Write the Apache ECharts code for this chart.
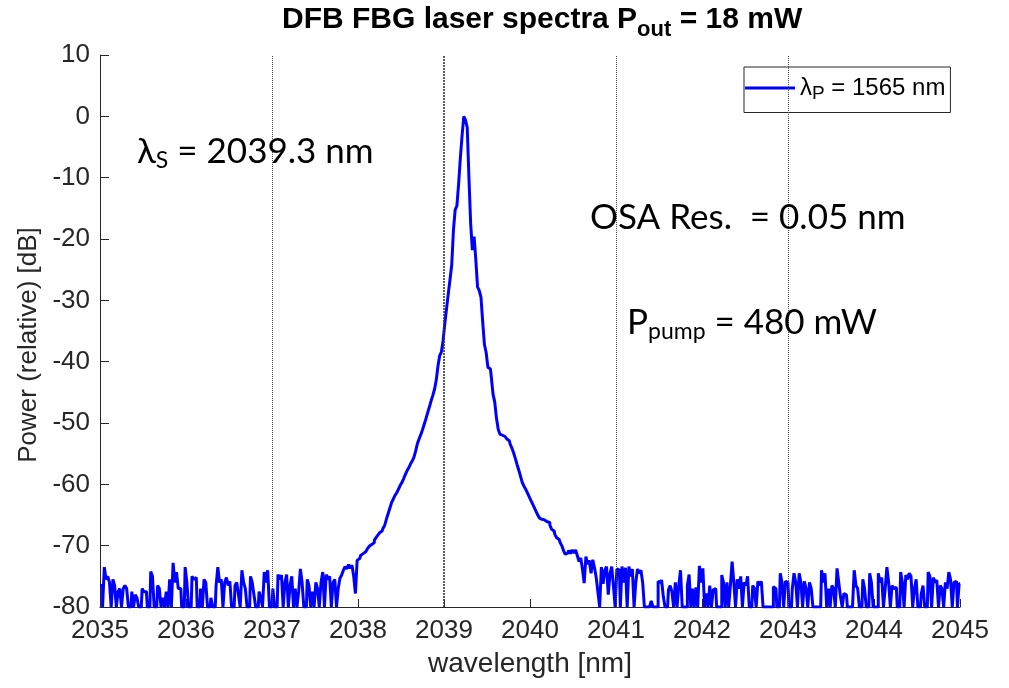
<!DOCTYPE html>
<html><head><meta charset="utf-8">
<script src="https://cdn.jsdelivr.net/npm/echarts@6/dist/echarts.min.js"></script>
<style>html,body{margin:0;padding:0;background:#fff}#c{width:1009px;height:688px}</style>
</head><body><div id="c"></div>
<script>
// ---- data ----
const wlStep = 0.02;          // nm, sampling grid of the spectrum
const leftStart = 2035.00;    // start of left noise segment
const peakStart = 2037.76;    // start of laser-line segment
const rightStart = 2041.02;   // start of right noise segment

const noiseLeft = [
-76.5,-76.5,-80,-73.5,-75.5,-75,-76,-80,-75.5,-76.5,
-80,-77.5,-77,-80,-77,-76.5,-77,-80,-80,-77.5,
-80,-78,-78.5,-80,-80,-77,-77.5,-77.5,-80,-80,
-74.2,-75,-80,-80,-76.5,-77,-80,-78.5,-80,-77.5,
-80,-75.5,-80,-72.8,-76,-74.3,-77,-77,-80,-80,
-73.5,-76,-80,-80,-75,-75.5,-75.2,-80,-80,-77,
-80,-75.5,-76,-80,-80,-78.5,-80,-80,-76.5,-73.5,
-76,-75.5,-80,-76,-75.2,-76.5,-75.8,-80,-80,-76.5,
-76,-78,-80,-74,-76,-77,-80,-80,-75,-76,
-78,-80,-80,-77.5,-78.5,-80,-74.3,-76,-74,-80,
-80,-77,-80,-80,-74.7,-75.5,-74.8,-80,-76,-74.7,
-80,-76.5,-75,-80,-77,-80,-77.5,-73.8,-76,-80,
-80,-75.5,-76.5,-80,-77.5,-80,-76,-77,-80,-76,
-74.3,-80,-74.7,-75.5,-75,-80,-76,-75.5
];

const peakRegion = [
-80,-77,-75.3,-74.8,-74.0,-73.4,-73.8,-73.1,-73.7,-73.2,
-75.0,-77.8,-72.4,-72.1,-71.6,-71.3,-71.0,-70.7,-70.5,-70.1,
-69.8,-69.5,-69.1,-68.7,-68.3,-67.9,-67.6,-67.2,-66.7,-65.7,
-64.8,-63.9,-63.0,-62.4,-61.8,-61.4,-60.8,-60.2,-59.7,-59.1,
-58.4,-57.8,-57.3,-56.7,-56.2,-55.6,-54.6,-53.4,-52.6,-51.9,
-51.1,-50.2,-49.3,-48.3,-47.4,-46.4,-45.5,-44.5,-43.0,-40.7,
-39.0,-38.4,-36.5,-33.7,-31.3,-28.9,-26.6,-24.2,-18.5,-15.2,
-14.6,-11.0,-6.8,-3.2,0.0,-0.6,-1.8,-10,-17.5,-21.8,
-19.6,-23.4,-27.8,-28.4,-29.5,-33.5,-37.2,-38.5,-40.9,-41.2,
-42.5,-45.3,-46.6,-49.2,-51.0,-51.8,-52.0,-52.2,-52.4,-52.6,
-52.9,-53.5,-54.1,-54.9,-55.8,-56.8,-57.7,-58.7,-59.7,-60.3,
-60.8,-61.4,-62.0,-62.6,-63.2,-63.8,-64.4,-65.0,-65.5,-65.7,
-65.8,-66.0,-66.1,-66.2,-66.6,-67.3,-67.6,-68.2,-68.7,-69.0,
-69.5,-70.0,-70.8,-71.4,-71.2,-70.8,-71.3,-70.7,-71.2,-70.7,
-71.6,-72.6,-72.0,-73.8,-76.1,-71.8,-73.0,-72.4,-74.5,-72.3,
-73.6,-75.2,-77.6,-80,-73.5,-76.2,-74.0,-73.4,-78.0,-74.6,
-73.4,-76.5,-80
];

const noiseRight = [
-73.8,-74,-80,-73.4,-76,-73.6,-80,-73.4,-75,-73.8,
-80,-76,-73.8,-74.5,-74,-76,-80,-80,-80,-80,
-79,-80,-80,-80,-75.8,-76,-75.6,-78.3,-80,-80,
-77.2,-76.5,-77.5,-80,-76,-80,-76.5,-74,-80,-80,
-80,-76.5,-74.7,-80,-77,-80,-76.8,-80,-73.3,-76,
-73.7,-80,-77.8,-80,-76.5,-80,-77.2,-77,-80,-80,
-80,-74.8,-76,-80,-76,-80,-76.5,-72.6,-76,-80,
-75.5,-77,-75,-80,-76,-76.5,-75,-80,-80,-76.5,
-77,-80,-75.8,-76.5,-75.8,-80,-80,-80,-80,-80,
-80,-76.7,-77,-80,-80,-74.5,-76,-80,-75.8,-76,
-80,-80,-77,-74.5,-76,-80,-74.5,-76,-80,-75.8,
-77,-80,-76,-77,-80,-80,-80,-80,-80,-74,
-76,-74.5,-80,-77,-80,-76.5,-77,-80,-73.7,-76,
-78.3,-80,-77.8,-78,-80,-80,-80,-80,-74,-76.5,
-77,-80,-80,-75.5,-77,-80,-80,-74.5,-76,-80,
-80,-80,-74.5,-76,-75.2,-80,-77,-73.5,-76,-80,
-76.5,-77,-76.8,-80,-80,-74.3,-76,-80,-74.8,-75.5,
-74.5,-75,-80,-77,-75.5,-80,-80,-77.8,-76.5,-80,
-80,-74.3,-75,-80,-75.2,-76,-75.6,-80,-76.5,-77,
-80,-76,-77,-74.3,-75.5,-80,-76,-75.8,-80,-76.2
];

const refLines = [2037, 2039, 2041, 2043];   // dotted vertical markers
const xMin = 2035, xMax = 2045, xInterval = 1;
const yMin = -80, yMax = 10, yInterval = 10;

// ---- build ----
function seg(start, vals) {
  return vals.map((v, i) => [+(start + i * wlStep).toFixed(2), v]);
}
const spectrum = seg(leftStart, noiseLeft).concat(seg(peakStart, peakRegion), seg(rightStart, noiseRight));

const axisColor = '#262626';
const tickFont = 'Liberation Sans, Arial, sans-serif';
const annoFont = 'Lato, "Noto Sans", sans-serif';

const chart = echarts.init(document.getElementById('c'), null, {renderer: 'canvas'});
chart.setOption({
  animation: false,
  backgroundColor: '#fff',
  title: {
    text: '{t|DFB FBG laser spectra P}{s|out}{t| = 18 mW}',
    left: 277, top: -6,
    textStyle: {
      rich: {
        t: {fontSize: 30, fontWeight: 'bold', fontFamily: tickFont, color: '#000'},
        s: {fontSize: 22, fontWeight: 'bold', fontFamily: tickFont, color: '#000', padding: [20, 0, 0, 0]}
      }
    }
  },
  legend: {
    left: 744, top: 67,
    padding: [9, 5, 9, 1],
    itemWidth: 50, itemHeight: 3, icon: 'rect',
    borderColor: axisColor, borderWidth: 1, backgroundColor: '#fff', borderRadius: 0,
    formatter: () => '{a|λ}{s|P}{a| = 1565 nm}',
    textStyle: {
      rich: {
        a: {fontSize: 24, fontFamily: tickFont, color: '#000'},
        s: {fontSize: 19, fontFamily: tickFont, color: '#000', padding: [12, 0, 0, 0]}
      }
    },
    data: ['pump']
  },
  grid: {left: 100, right: 49, top: 55, bottom: 81, containLabel: false},
  xAxis: {
    type: 'value', min: xMin, max: xMax, interval: xInterval,
    name: 'wavelength [nm]', nameLocation: 'middle', nameGap: 43,
    nameTextStyle: {fontSize: 28, color: axisColor, fontFamily: tickFont},
    axisLine: {show: true, onZero: false, lineStyle: {color: axisColor, width: 1}},
    axisTick: {show: true, inside: true, length: 8, lineStyle: {color: axisColor}},
    axisLabel: {color: axisColor, fontSize: 26, fontFamily: tickFont, margin: 11,
                formatter: v => String(v)},
    splitLine: {show: false}
  },
  yAxis: {
    type: 'value', min: yMin, max: yMax, interval: yInterval,
    name: 'Power (relative) [dB]', nameLocation: 'middle', nameGap: 45,
    nameTextStyle: {fontSize: 26, color: axisColor, fontFamily: tickFont, padding: [0, 28, 0, 0]},
    axisLine: {show: true, onZero: false, lineStyle: {color: axisColor, width: 1}},
    axisTick: {show: true, inside: true, length: 9, lineStyle: {color: axisColor}},
    axisLabel: {color: axisColor, fontSize: 26, fontFamily: tickFont, margin: 10},
    splitLine: {show: false}
  },
  series: [{
    name: 'pump',
    type: 'line',
    data: spectrum,
    symbol: 'none',
    step: 'middle',
    clip: true,
    lineStyle: {color: '#0000ff', width: 3},
    itemStyle: {color: '#0000ff'},
    markLine: {
      silent: true, symbol: ['none', 'none'],
      label: {show: false},
      lineStyle: {type: 'dotted', color: '#444', width: 1},
      data: refLines.map(v => ({xAxis: v, lineStyle: v === 2039 ? {width: 1.6, color: '#333', type: [2, 1]} : {}}))
    }
  }],
  graphic: [
    {type: 'text', left: 137, top: 134, z: 100,
     style: {text: '{a|λ}{s|S}{a| = 2039.3 nm}', rich: {
       a: {fontSize: 35, fontFamily: annoFont, fill: '#000'},
       s: {fontSize: 23, fontFamily: annoFont, fill: '#000', padding: [19, 0, 0, 0]}}}},
    {type: 'text', left: 590, top: 200, z: 100,
     style: {text: 'OSA Res.  = 0.05 nm', fontSize: 35, fontFamily: annoFont, fill: '#000'}},
    {type: 'text', left: 627, top: 305, z: 100,
     style: {text: '{a|P}{s|pump}{a| = 480 mW}', rich: {
       a: {fontSize: 35, fontFamily: annoFont, fill: '#000'},
       s: {fontSize: 23, fontFamily: annoFont, fill: '#000', padding: [19, 0, 0, 0]}}}}
  ]
});
</script>
</body></html>
